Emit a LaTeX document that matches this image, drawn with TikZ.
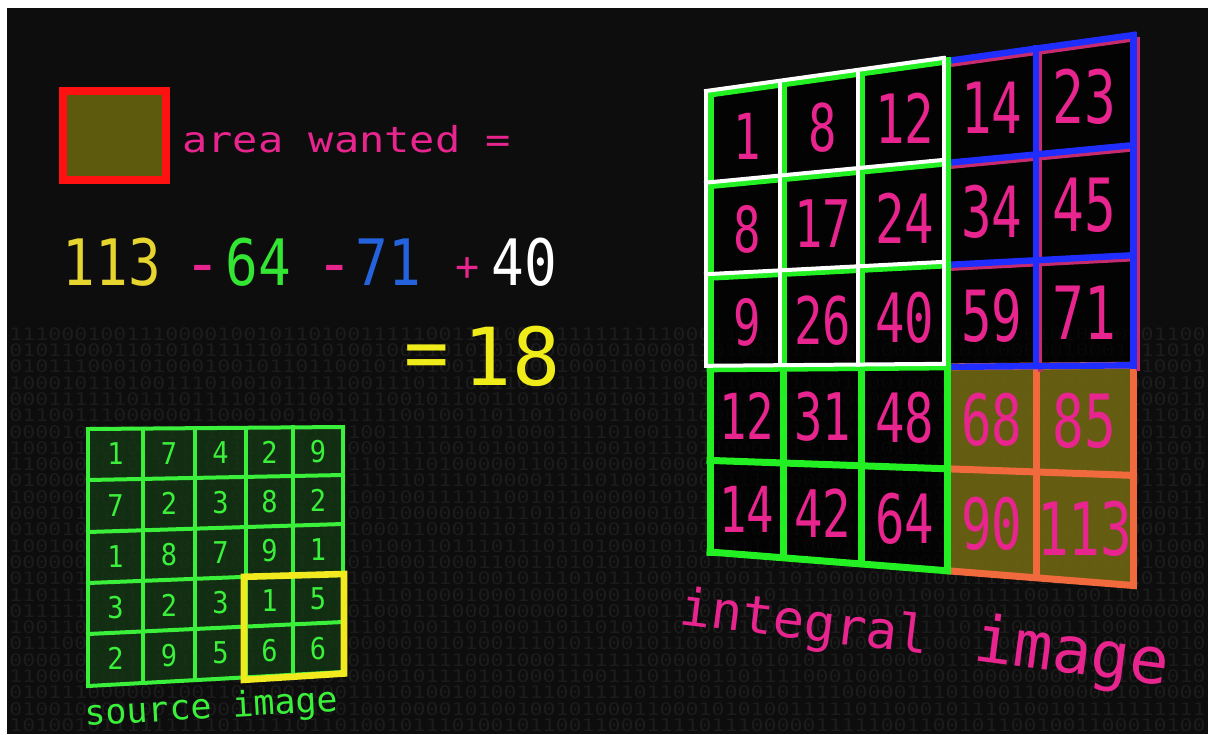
\documentclass[tikz,border=0pt]{standalone}
\usepackage{fontspec}
\usepackage{graphicx}
\newfontfamily\dmono{DejaVu Sans Mono}
\usetikzlibrary{calc}
\definecolor{bgc}{HTML}{0D0D0D}
\definecolor{bitc}{HTML}{1C1C1C}
\definecolor{pinkt}{HTML}{E8248E}
\definecolor{yel113}{HTML}{E6D52E}
\definecolor{grn64}{HTML}{33E633}
\definecolor{blu71}{HTML}{2563DE}
\definecolor{yelbig}{HTML}{F0EC1A}
\definecolor{redbox}{HTML}{FF1111}
\definecolor{olivebox}{HTML}{5E5A0D}
\definecolor{intgreen}{HTML}{22F022}
\definecolor{intblue}{HTML}{1F2EFF}
\definecolor{intpink}{HTML}{C82A6E}
\definecolor{intorange}{HTML}{F06A3E}
\definecolor{olivecell}{HTML}{6E6612}
\definecolor{srcgreen}{HTML}{3AF03A}
\definecolor{srccell}{HTML}{143414}
\definecolor{yellowbox}{HTML}{F0EA1E}
\tikzset{
  bits/.style={anchor=north west,inner sep=0pt,text=bitc,font=\dmono\fontsize{10.8pt}{10.8pt}\selectfont},
  blackcell/.style={fill=black,fill opacity=0.75},
  olcell/.style={fill=olivecell,fill opacity=0.9},
  orangeln/.style={draw=intorange,line width=3.5pt,line cap=rect},
  pinkln/.style={draw=intpink,line width=2pt,line cap=rect},
  blueln/.style={draw=intblue,line width=3.2pt,line cap=rect},
  greenln/.style={draw=intgreen,line width=3.5pt,line cap=rect},
  whiteln/.style={draw=white,line width=2pt,line cap=rect},
  ivnum/.style={text=pinkt,inner sep=0pt,anchor=center,font=\dmono},
  srcln/.style={draw=srcgreen,line width=2pt,line cap=rect},
  srcfill/.style={fill=srccell,fill opacity=0.85},
  srcnum/.style={text=srcgreen,inner sep=0pt,anchor=center,font=\dmono\fontsize{15pt}{15pt}\selectfont},
  ybox/.style={draw=yellowbox,line width=3.3pt,line join=miter},
  eqtxt/.style={inner sep=0pt,anchor=base,font=\dmono\fontsize{32pt}{32pt}\selectfont},
  labtxt/.style={inner sep=0pt,anchor=base west,font=\dmono},
}
\begin{document}
\begin{tikzpicture}[x=0.5pt,y=-0.5pt]
\useasboundingbox (0,0) rectangle (1208,734);
\fill[white] (0,0) rectangle (1208,734);
\fill[bgc] (7,8) rectangle (1208,734);

% binary texture
\begin{scope}
\clip (7,8) rectangle (1208,734);
\pgfmathsetseed{11}
\foreach \r in {0,...,24}{
  \gdef\rowbits{}
  \foreach \c in {1,...,92}{
    \pgfmathrandominteger{\bit}{0}{1}
    \xdef\rowbits{\rowbits\bit}
  }
  \node[bits] (bin\r) at (9,{327+16.3*\r}) {\scalebox{1}[0.8]{\rowbits}};
}
\end{scope}

% area wanted box
\draw[redbox,line width=4pt,fill=olivebox] (63,91) rectangle (166,180);
\node[labtxt,text=pinkt,font=\dmono\fontsize{21pt}{21pt}\selectfont] (area) at (182,152) {\scalebox{1}[0.85]{area wanted =}};

% equation
\node[eqtxt,text=yel113] (e113) at (112,285) {\scalebox{0.85}[1]{113}};
\node[eqtxt,text=pinkt] (em1) at (202.5,285) {-};
\node[eqtxt,text=grn64] (e64) at (258,285) {\scalebox{0.85}[1]{64}};
\node[eqtxt,text=pinkt] (em2) at (335,285) {-};
\node[eqtxt,text=blu71] (e71) at (388,285) {\scalebox{0.85}[1]{71}};
\node[eqtxt,text=pinkt,font=\dmono\fontsize{20pt}{20pt}\selectfont] (ep) at (468,280) {+};
\node[eqtxt,text=white] (e40) at (524,285) {\scalebox{0.85}[1]{40}};
\node[eqtxt,text=yelbig,font=\dmono\fontsize{37pt}{37pt}\selectfont] (eeq) at (426.5,378) {=};
\node[eqtxt,text=yelbig,font=\dmono\fontsize{40pt}{40pt}\selectfont] (e18) at (512,385) {18};

% integral grid coordinates
\foreach \i/\X in {0/710,1/783.5,2/861.5,3/947.5,4/1036,5/1133.5}{
  \foreach \j in {0,...,5}{
    \pgfmathsetmacro\Y{94+91.6*\j+(\X-710)/423.5*((35+110.1*\j)-(94+91.6*\j))}
    \coordinate (g-\i-\j) at (\X,\Y);
  }
}
% source grid coordinates
\foreach \i/\X in {0/88,1/143,2/195,3/246,4/293,5/343}{
  \foreach \j/\yl/\yr in {0/429/427,1/480/475,2/532/524,3/583/573,4/634/622,5/686/672}{
    \pgfmathsetmacro\Y{\yl+(\X-88)/255*(\yr-\yl)}
    \coordinate (s-\i-\j) at (\X,\Y);
  }
}

% integral cells
\foreach \i in {0,...,4}{
  \foreach \j in {0,...,4}{
    \pgfmathtruncatemacro\ii{\i+1}
    \pgfmathtruncatemacro\jj{\j+1}
    \pgfmathtruncatemacro\isol{(\i>2)&&(\j>2)}
    \ifnum\isol=1
      \fill[olcell] (g-\i-\j) -- (g-\ii-\j) -- (g-\ii-\jj) -- (g-\i-\jj) -- cycle;
    \else
      \fill[blackcell] (g-\i-\j) -- (g-\ii-\j) -- (g-\ii-\jj) -- (g-\i-\jj) -- cycle;
    \fi
  }
}
% orange (113)
\foreach \i in {3,4,5} \draw[orangeln] (g-\i-3) -- (g-\i-5);
\foreach \j in {3,4,5} \draw[orangeln] (g-3-\j) -- (g-5-\j);
% pink thin lines
\foreach \j in {0,1,2} \draw[pinkln] ($(g-3-\j)+(4,4)$) -- ($(g-5-\j)+(4,4)$);
\foreach \i in {4,5} \draw[pinkln] ($(g-\i-0)+(4,4)$) -- ($(g-\i-3)+(4,4)$);
% blue (71)
\foreach \j in {0,...,3} \draw[blueln] (g-3-\j) -- (g-5-\j);
\foreach \i in {4,5} \draw[blueln] (g-\i-0) -- (g-\i-3);
% green (64)
\foreach \j in {0,...,5} \draw[greenln] (g-0-\j) -- (g-3-\j);
\foreach \i in {0,...,3} \draw[greenln] (g-\i-0) -- (g-\i-5);
% white (40)
\foreach \j in {0,...,3} \draw[whiteln] ($(g-0-\j)+(-4,-3)$) -- ($(g-3-\j)+(-4,-3)$);
\foreach \i in {0,...,3} \draw[whiteln] ($(g-\i-0)+(-4,-3)$) -- ($(g-\i-3)+(-4,-3)$);

% integral numbers
\foreach \vals [count=\j from 0] in {{1,8,12,14,23},{8,17,24,34,45},{9,26,40,59,71},{12,31,48,68,85},{14,42,64,90,113}}{
  \foreach \v [count=\i from 0] in \vals {
    \pgfmathtruncatemacro\ii{\i+1}
    \pgfmathtruncatemacro\jj{\j+1}
    \pgfmathsetmacro\fs{{31.7,32.8,34,35.3,36.7}[\i]}
    \node[ivnum] (iv-\i-\j) at ($(g-\i-\j)!0.5!(g-\ii-\jj)$) {\fontsize{\fs pt}{\fs pt}\selectfont\scalebox{0.72}[1]{\v}};
  }
}

% source image cells
\foreach \i in {0,...,4}{
  \foreach \j in {0,...,4}{
    \pgfmathtruncatemacro\ii{\i+1}
    \pgfmathtruncatemacro\jj{\j+1}
    \fill[srcfill] (s-\i-\j) -- (s-\ii-\j) -- (s-\ii-\jj) -- (s-\i-\jj) -- cycle;
  }
}
\foreach \j in {0,...,5} \draw[srcln] (s-0-\j) -- (s-5-\j);
\foreach \i in {0,...,5} \draw[srcln] (s-\i-0) -- (s-\i-5);
\foreach \vals [count=\j from 0] in {{1,7,4,2,9},{7,2,3,8,2},{1,8,7,9,1},{3,2,3,1,5},{2,9,5,6,6}}{
  \foreach \v [count=\i from 0] in \vals {
    \pgfmathtruncatemacro\ii{\i+1}
    \pgfmathtruncatemacro\jj{\j+1}
    \node[srcnum] (sv-\i-\j) at ($(s-\i-\j)!0.5!(s-\ii-\jj)$) {\scalebox{0.9}[1]{\v}};
  }
}
\draw[ybox] ($(s-3-3)+(-2,0)$) -- ($(s-5-3)+(1,1)$) -- ($(s-5-5)+(1,1.5)$) -- ($(s-3-5)+(-2,2.5)$) -- cycle;

% labels
\node[labtxt,text=srcgreen,rotate=3.4,font=\dmono\fontsize{17.5pt}{17.5pt}\selectfont] (srclab) at (85.5,726) {source image};
\node[labtxt,text=pinkt,rotate=-7,font=\dmono\fontsize{26pt}{26pt}\selectfont] (intlab) at (678,624) {integral};
\node[labtxt,text=pinkt,rotate=-7.5,font=\dmono\fontsize{32.5pt}{32.5pt}\selectfont] (imglab) at (972,660) {image};
\end{tikzpicture}
\end{document}
